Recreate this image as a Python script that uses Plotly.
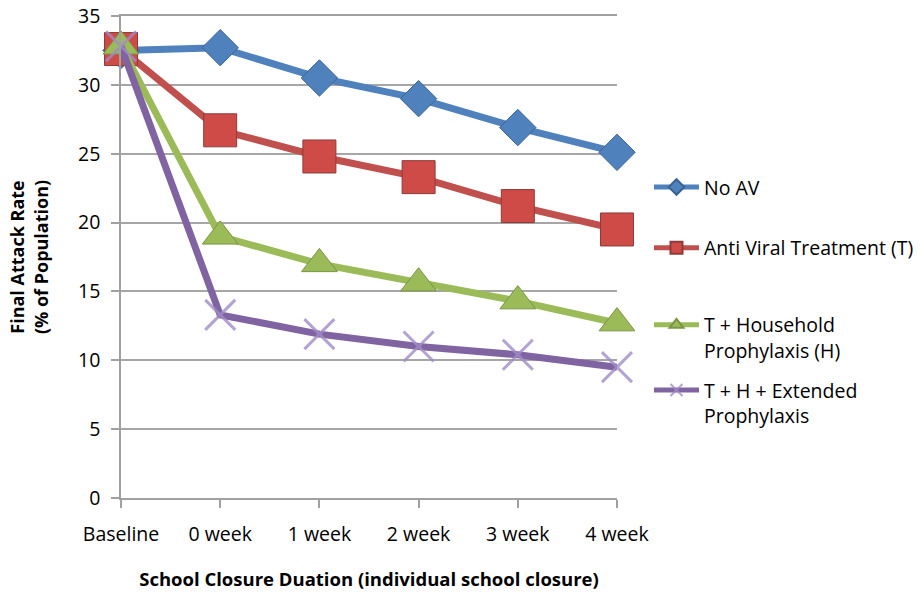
import plotly.graph_objects as go

categories = ["Baseline", "0 week", "1 week", "2 week", "3 week", "4 week"]
no_av = [32.5, 32.7, 30.5, 29.0, 26.9, 25.1]
antiviral_t = [32.6, 26.7, 24.8, 23.3, 21.2, 19.5]
t_household = [32.8, 19.0, 17.0, 15.6, 14.3, 12.7]
t_h_extended = [32.8, 13.3, 11.9, 11.0, 10.4, 9.5]
series_names = ["No AV", "Anti Viral Treatment (T)", "T + Household<br>Prophylaxis (H)",
                "T + H + Extended<br>Prophylaxis"]

FONT = "'Open Sans', Lato, sans-serif"

fig = go.Figure()
styles = [
    (no_av, "#4F81BD", dict(symbol="diamond", size=28, color="#4F81BD", line=dict(color="#3A6395", width=1))),
    (antiviral_t, "#C0504D", dict(symbol="square", size=33, color="#CF4B47", line=dict(color="#8E3B39", width=1))),
    (t_household, "#9BBB59", dict(symbol="triangle-up", size=31, color="#9BBB59", line=dict(color="#7A9545", width=1))),
    (t_h_extended, "#8064A2", dict(symbol="x-thin", size=30, color="rgba(160,140,200,0.8)",
                                   line=dict(color="rgba(160,140,200,0.8)", width=3))),
]
legend_names = ["legend", "legend2", "legend3", "legend4"]
legend_y = [0.685, 0.559, 0.399, 0.264]
for i, (vals, col, mk) in enumerate(styles):
    fig.add_trace(go.Scatter(
        x=categories, y=vals, name=series_names[i], mode="lines+markers",
        line=dict(color=col, width=7), marker=mk, cliponaxis=False,
        legend=legend_names[i],
    ))

layout_legends = {}
for i, ln in enumerate(legend_names):
    layout_legends[ln] = dict(x=1.0645, y=legend_y[i], xanchor="left", yanchor="top",
                              font=dict(family=FONT, size=19.5), valign="top",
                              itemsizing="constant", itemwidth=45,
                              bgcolor="rgba(0,0,0,0)")

fig.update_layout(
    width=921, height=594,
    margin=dict(l=121, r=304, t=16, b=96, autoexpand=False),
    plot_bgcolor="white", paper_bgcolor="white",
    font=dict(family=FONT, size=19, color="black"),
    showlegend=True,
    **layout_legends,
)
fig.update_xaxes(
    type="category", range=[0, 5], showgrid=False, automargin=False,
    showline=True, linecolor="#A0A0A0", linewidth=1.5, mirror=True,
    ticks="outside", ticklen=8, tickcolor="#A0A0A0", tickwidth=1.5,
    tickfont=dict(size=19.5), ticklabelstandoff=10,
    title=dict(text="<b>School Closure Duation (individual school closure)</b>",
               font=dict(size=18.5), standoff=27),
)
fig.update_yaxes(
    range=[0, 35], dtick=5, showgrid=True, gridcolor="#A6A6A6", gridwidth=1.5,
    zeroline=False, showline=True, linecolor="#A0A0A0", linewidth=1.5, automargin=False,
    ticks="outside", ticklen=8, tickcolor="#A0A0A0", tickwidth=1.5,
    tickfont=dict(size=19.5), ticklabelstandoff=7, ticklabeloverflow="allow",
    title=dict(text="<b>Final Attack Rate<br>(% of Population)</b>",
               font=dict(size=18), standoff=25),
)

# remove the browser's default 8px body margin so the figure fills the window
fig.write_html("out.html", config={"displayModeBar": False},
               post_script="document.body.style.margin='0px';")
